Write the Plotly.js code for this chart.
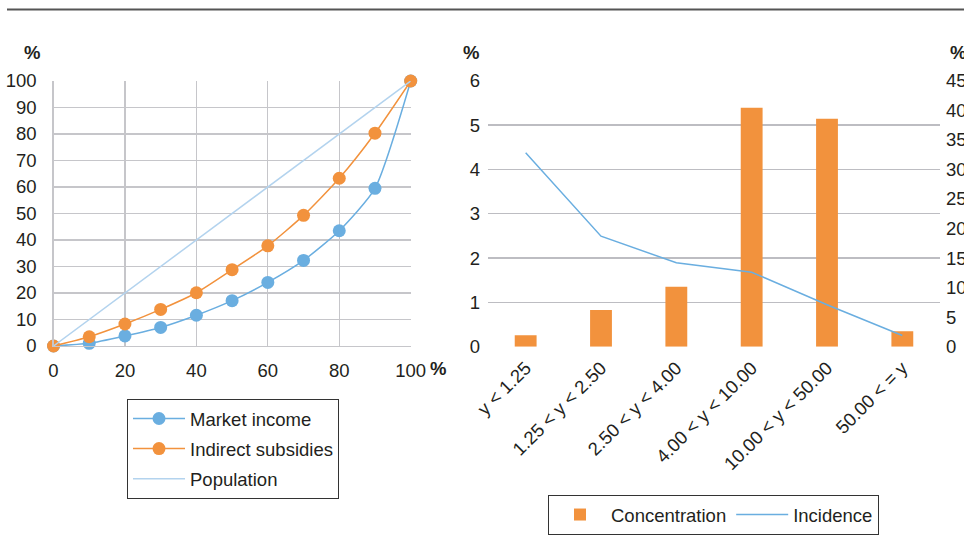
<!DOCTYPE html>
<html>
<head>
<meta charset="utf-8">
<script src="https://cdn.plot.ly/plotly-3.0.1.min.js"></script>
<style>html,body{margin:0;padding:0;background:#fff;}#chart{width:964px;height:546px;}</style>
</head>
<body>
<div id="chart"></div>
<script>
// Left panel: concentration curves
const popShares = [0, 10, 20, 30, 40, 50, 60, 70, 80, 90, 100];
const marketIncome = [0, 1.0, 3.8, 7.0, 11.6, 17.1, 24.0, 32.3, 43.5, 59.5, 100];
const indirectSubsidies = [0, 3.5, 8.3, 13.8, 20.1, 28.8, 37.8, 49.3, 63.3, 80.3, 100];
const populationX = [0, 100];
const populationY = [0, 100];

// Right panel: by income group
const incomeGroups = ["y < 1.25", "1.25 < y < 2.50", "2.50 < y < 4.00", "4.00 < y < 10.00", "10.00 < y < 50.00", "50.00 < = y"];
const concentration = [0.26, 0.83, 1.35, 5.39, 5.14, 0.35];
const incidence = [32.8, 18.7, 14.2, 12.6, 7.1, 1.9];

const W = 964, H = 546;
const px = v => v / W;
const py = v => (H - v) / H;

const blue = "#6aaee0";
const orange = "#f2923d";
const lightBlue = "#b3d3ee";
const txt = "#231f20";
const font = {family: "Liberation Sans, Arial, sans-serif", size: 18.5, color: txt};

const traces = [
  {x: popShares, y: marketIncome, name: "Market income", type: "scatter", mode: "lines+markers",
   line: {color: blue, width: 1.5, shape: "spline", smoothing: 0.6}, marker: {color: blue, size: 13},
   cliponaxis: false, xaxis: "x", yaxis: "y", legend: "legend", legendgroup: "a"},
  {x: popShares, y: indirectSubsidies, name: "Indirect subsidies", type: "scatter", mode: "lines+markers",
   line: {color: orange, width: 1.5, shape: "spline", smoothing: 0.6}, marker: {color: orange, size: 13},
   cliponaxis: false, xaxis: "x", yaxis: "y", legend: "legend", legendgroup: "b"},
  {x: populationX, y: populationY, name: "Population", type: "scatter", mode: "lines",
   line: {color: lightBlue, width: 1.5}, xaxis: "x", yaxis: "y", legend: "legend", legendgroup: "c"},
  {x: incomeGroups, y: concentration, name: "Concentration", type: "bar",
   marker: {color: orange}, xaxis: "x2", yaxis: "y2", legend: "legend2"},
  {x: incomeGroups, y: incidence, name: "Incidence", type: "scatter", mode: "lines",
   line: {color: blue, width: 1.5}, xaxis: "x2", yaxis: "y3", legend: "legend2"}
];

const gridC = "#c6c6ca";
const layout = {
  width: W, height: H,
  margin: {l: 0, r: 0, t: 0, b: 0},
  paper_bgcolor: "#fff", plot_bgcolor: "rgba(0,0,0,0)",
  font: font,
  showlegend: true,
  bargap: 0.71,
  xaxis: {domain: [px(53.5), px(410.7)], range: [0, 100], tickvals: [0, 20, 40, 60, 80, 100],
          showgrid: true, gridcolor: gridC, gridwidth: 1.3, zeroline: false,
          showline: true, linecolor: gridC, linewidth: 1.3, mirror: false,
          ticks: "", ticklabelstandoff: 7, tickfont: font, fixedrange: true},
  yaxis: {domain: [py(346), py(81)], range: [0, 100], dtick: 10,
          showgrid: true, gridcolor: gridC, gridwidth: 1.3, zeroline: false,
          showline: true, linecolor: gridC, linewidth: 1.3,
          ticks: "", ticklabelstandoff: 12, tickfont: font},
  xaxis2: {domain: [px(488), px(940)], anchor: "y2", type: "category",
           showgrid: false, zeroline: false, showline: false, ticks: "",
           tickangle: -45, tickfont: font, ticklabelstandoff: 6},
  yaxis2: {domain: [py(346.7), py(80.7)], anchor: "x2", range: [0, 6], dtick: 1,
           showgrid: true, gridcolor: "#bdbdc2", gridwidth: 1.5, zeroline: false, showline: false,
           ticks: "", ticklabelstandoff: 7, tickfont: font},
  yaxis3: {overlaying: "y2", anchor: "x2", side: "right", range: [0, 45], dtick: 5,
           showgrid: false, zeroline: false, showline: false, ticks: "",
           ticklabelstandoff: 5, tickfont: font},
  legend: {x: px(127), y: py(399), xanchor: "left", yanchor: "top", orientation: "v",
           bordercolor: "#333", borderwidth: 1, bgcolor: "#fff", font: font,
           tracegroupgap: 3, itemwidth: 52},
  legend2: {x: px(548), y: py(495), xanchor: "left", yanchor: "top", orientation: "h",
            bordercolor: "#333", borderwidth: 1, bgcolor: "#fff", font: font, itemwidth: 52},
  shapes: [
    {type: "line", xref: "paper", yref: "paper", x0: px(7), x1: 1, y0: py(9.5), y1: py(9.5),
     line: {color: "#555", width: 2}}
  ],
  annotations: [
    {text: "<b>%</b>", xref: "paper", yref: "paper", x: px(32), y: py(52), xanchor: "center", yanchor: "middle", showarrow: false, font: font},
    {text: "<b>%</b>", xref: "paper", yref: "paper", x: px(438), y: py(368), xanchor: "center", yanchor: "middle", showarrow: false, font: font},
    {text: "<b>%</b>", xref: "paper", yref: "paper", x: px(471), y: py(52), xanchor: "center", yanchor: "middle", showarrow: false, font: font},
    {text: "<b>%</b>", xref: "paper", yref: "paper", x: px(948), y: py(52), xanchor: "left", yanchor: "middle", showarrow: false, font: font}
  ]
};

Plotly.newPlot("chart", traces, layout, {displayModeBar: false, staticPlot: true});
</script>
</body>
</html>
